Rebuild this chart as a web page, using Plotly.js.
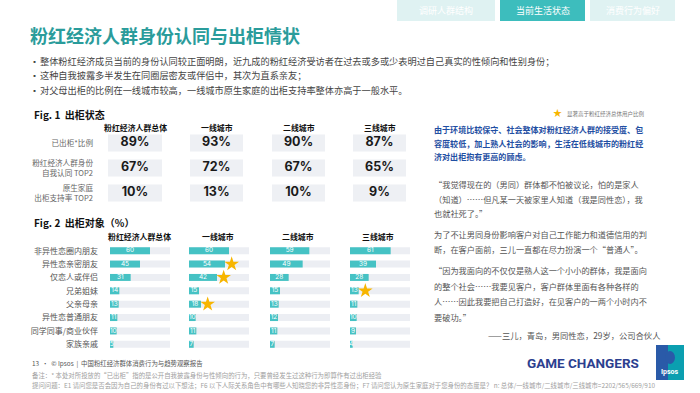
<!DOCTYPE html>
<html><head><meta charset="utf-8">
<script src="https://cdn.plot.ly/plotly-3.0.1.min.js"></script>
<style>html,body{margin:0;padding:0;background:#fff}#chart{width:700px;height:393px}</style>
</head><body><div id="chart"></div>
<script>
// ---------- DATA ----------
const columns = ['粉红经济人群总体', '一线城市', '二线城市', '三线城市'];

const fig1Rows = ['已出柜*比例', '粉红经济人群身份<br>自我认同 TOP2', '原生家庭<br>出柜支持率 TOP2'];
const fig1Total = [89, 67, 10];
const fig1Tier1 = [93, 72, 13];
const fig1Tier2 = [90, 67, 10];
const fig1Tier3 = [87, 65, 9];

const fig2Cats = ['非异性恋圈内朋友', '异性恋亲密朋友', '仅恋人或伴侣', '兄弟姐妹', '父亲母亲', '异性恋普通朋友', '同学同事/商业伙伴', '家族亲戚'];
const fig2Total = [60, 45, 31, 14, 13, 11, 10, 5];
const fig2Tier1 = [60, 54, 42, 15, 18, 10, 11, 7];
const fig2Tier2 = [59, 49, 28, 15, 13, 12, 11, 7];
const fig2Tier3 = [61, 39, 28, 13, 11, 10, 9, 4];
// 1 = significantly higher than total
const fig2StarTotal = [0, 0, 0, 0, 0, 0, 0, 0];
const fig2StarTier1 = [0, 1, 1, 0, 1, 0, 0, 0];
const fig2StarTier2 = [0, 0, 0, 0, 0, 0, 0, 0];
const fig2StarTier3 = [0, 0, 0, 1, 0, 0, 0, 0];

const tabs = ['调研人群结构', '当前生活状态', '消费行为偏好'];
const bullets = [
  '整体粉红经济成员当前的身份认同较正面明朗，近九成的粉红经济受访者在过去或多或少表明过自己真实的性倾向和性别身份；',
  '这种自我披露多半发生在同圈层密友或伴侣中，其次为直系亲友；',
  '对父母出柜的比例在一线城市较高，一线城市原生家庭的出柜支持率整体亦高于一般水平。'
];
const blueLines = [
  '由于环境比较保守、社会整体对粉红经济人群的接受度、包',
  '容度较低，加上熟人社会的影响，生活在低线城市的粉红经',
  '济对出柜抱有更高的顾虑。'
];
const quoteLines = [
  ['“我觉得现在的（男同）群体都不怕被议论，怕的是家人', 184],
  ['（知道）……但凡某一天被家里人知道（我是同性恋），我', 199],
  ['也就社死了。”', 213],
  ['为了不让男同身份影响客户对自己工作能力和道德信用的判', 234],
  ['断，在客户面前，三儿一直都在尽力扮演一个“普通人”。', 249],
  ['“因为我面向的不仅仅是熟人这一个小小的群体，我是面向', 270],
  ['的整个社会……我要见客户，客户群体里面有各种各样的', 286],
  ['人……因此我要把自己打造好，在见客户的一两个小时内不', 301],
  ['要破功。”', 317]
];

// ---------- LAYOUT HELPERS ----------
const W = 700, H = 393;
const px = x => x / W;
const py = y => 1 - y / H;
const TEAL = '#45c2c4', TRACK = '#eceef3', CELL = '#eef0f4', STAR = '#f7b500';
const FONT = 'Noto Sans CJK SC, Noto Sans, sans-serif';

const fig2Series = [fig2Total, fig2Tier1, fig2Tier2, fig2Tier3];
const fig2Stars = [fig2StarTotal, fig2StarTier1, fig2StarTier2, fig2StarTier3];
const fig1Series = [fig1Total, fig1Tier1, fig1Tier2, fig1Tier3];
const fig2Dom = [[110, 170], [189, 249], [270, 330], [350, 410]];
const fig1Dom = [[108, 162], [190, 243], [272, 325], [353, 406]];
const maxRange = 90;

const traces = [];
const layout = {
  width: W, height: H, margin: {l: 0, r: 0, t: 0, b: 0},
  paper_bgcolor: '#fff', plot_bgcolor: 'rgba(0,0,0,0)',
  showlegend: false, barmode: 'overlay',
  font: {family: FONT},
  annotations: [], shapes: []
};

// Fig 2 bars
fig2Series.forEach((vals, i) => {
  const xa = i === 0 ? 'x' : 'x' + (i + 1);
  const key = i === 0 ? 'xaxis' : 'xaxis' + (i + 1);
  layout[key] = {domain: [px(fig2Dom[i][0]), px(fig2Dom[i][1])], range: [0, maxRange],
    showgrid: false, zeroline: false, showticklabels: false, showline: false, anchor: 'y', fixedrange: true};
  traces.push({type: 'bar', orientation: 'h', xaxis: xa, yaxis: 'y', y: fig2Cats,
    x: fig2Cats.map(() => maxRange), marker: {color: TRACK}, width: 0.52, hoverinfo: 'skip'});
  traces.push({type: 'bar', orientation: 'h', xaxis: xa, yaxis: 'y', y: fig2Cats, x: vals,
    marker: {color: TEAL}, width: 0.52, hoverinfo: 'skip'});
  traces.push({type: 'scatter', mode: 'text', xaxis: xa, yaxis: 'y', y: fig2Cats,
    x: vals.map(v => v / 2), text: vals.map(String),
    textfont: {color: '#ffffff', size: 6.5, family: 'Inter, sans-serif'}, hoverinfo: 'skip'});
  const sy = [], sx = [];
  fig2Stars[i].forEach((f, j) => { if (f) { sy.push(fig2Cats[j]); sx.push(vals[j] + 10); } });
  traces.push({type: 'scatter', mode: 'markers', xaxis: xa, yaxis: 'y', y: sy, x: sx,
    marker: {symbol: 'star', size: 11, color: STAR}, hoverinfo: 'skip'});
});
layout.yaxis = {domain: [py(351), py(244)], type: 'category', autorange: 'reversed',
  showgrid: false, zeroline: false, showline: false, ticks: '', anchor: 'x',
  ticklabelstandoff: 11, tickfont: {size: 8, color: '#555', family: FONT}, fixedrange: true};

// Fig 1 table cells
fig1Series.forEach((vals, i) => {
  const n = i + 5;
  const xa = 'x' + n;
  layout['xaxis' + n] = {domain: [px(fig1Dom[i][0]), px(fig1Dom[i][1])], range: [0, 1],
    showgrid: false, zeroline: false, showticklabels: false, showline: false, anchor: 'y2', fixedrange: true};
  traces.push({type: 'bar', orientation: 'h', xaxis: xa, yaxis: 'y2', y: fig1Rows,
    x: fig1Rows.map(() => 1), marker: {color: CELL}, width: 0.68, hoverinfo: 'skip'});
  traces.push({type: 'scatter', mode: 'text', xaxis: xa, yaxis: 'y2', y: fig1Rows,
    x: fig1Rows.map(() => 0.5), text: vals.map(v => v + '%'),
    textfont: {color: '#1a1a1a', size: 12.5, family: 'Inter, sans-serif', weight: 700}, hoverinfo: 'skip'});
});
layout.yaxis2 = {domain: [py(205.5), py(130.5)], type: 'category', autorange: 'reversed',
  showgrid: false, zeroline: false, showline: false, ticks: '', anchor: 'x5',
  ticklabelstandoff: 14, tickfont: {size: 7.6, color: '#666', family: FONT}, fixedrange: true};

// Column headers
const fig1HeadX = [135, 216.5, 298.5, 379.5];
const fig2HeadX = [139, 218, 298, 378];
columns.forEach((c, i) => {
  layout.annotations.push({text: '<b>' + c + '</b>', x: px(fig1HeadX[i]), y: py(127), xref: 'paper', yref: 'paper',
    showarrow: false, font: {size: 7.9, color: '#111'}, xanchor: 'center', yanchor: 'middle'});
  layout.annotations.push({text: '<b>' + c + '</b>', x: px(fig2HeadX[i]), y: py(236), xref: 'paper', yref: 'paper',
    showarrow: false, font: {size: 7.9, color: '#111'}, xanchor: 'center', yanchor: 'middle'});
});

function ann(text, x, y, opts) {
  layout.annotations.push(Object.assign({text: text, x: px(x), y: py(y), xref: 'paper', yref: 'paper',
    showarrow: false, xanchor: 'left', yanchor: 'middle', font: {size: 9, color: '#444'}}, opts || {}));
}

// Title & bullets
ann('<b>粉红经济人群身份认同与出柜情状</b>', 28, 35, {font: {size: 18, color: '#2a9c9b'}});
bullets.forEach((b, i) => {
  const y = 61 + i * 14.5;
  ann('▪', 29, y, {font: {size: 7, color: '#444'}});
  ann(b, 38, y, {font: {size: 9.2, color: '#444'}});
});

// Tabs
const tabX = [[397, 495], [500, 585], [590, 675]];
tabs.forEach((t, i) => {
  layout.shapes.push({type: 'rect', xref: 'paper', yref: 'paper', x0: px(tabX[i][0]), x1: px(tabX[i][1]),
    y0: py(21), y1: py(0), fillcolor: i === 1 ? '#3dbdbd' : '#dff2f2', line: {width: 0}});
  ann(t, (tabX[i][0] + tabX[i][1]) / 2, 10.5, {xanchor: 'center', font: {size: 9, color: '#ffffff'}});
});

// Fig titles
ann('<b>Fig. 1  出柜状态</b>', 32, 114, {font: {size: 10, color: '#111'}});
ann('<b>Fig. 2  出柜对象（%）</b>', 32, 222, {font: {size: 10, color: '#111'}});

// Right panel
ann('★', 557, 112.5, {xanchor: 'center', font: {size: 9, color: STAR}});
ann('显著高于粉红经济总体用户比例', 565, 113.5, {font: {size: 5.5, color: '#777'}});
blueLines.forEach((l, i) => ann('<b>' + l + '</b>', 432, 129 + i * 14, {font: {size: 8.05, color: '#1f4fa3'}}));
quoteLines.forEach(q => ann(q[0], 432, q[1], {font: {size: 8.2, color: '#555'}}));
ann('——三儿，青岛，男同性恋，29岁，公司合伙人', 662, 335, {xanchor: 'right', font: {size: 8.3, color: '#555'}});

// Footer
ann('13  •  © Ipsos  |  中国粉红经济群体消费行为与趋势观察报告', 30, 363, {font: {size: 6.4, color: '#555'}});
ann('备注：* 本处对所投放的“已出柜”指的是公开自我披露身份与性倾向的行为，只要曾经发生过这种行为即算作有过出柜经验', 30, 375, {font: {size: 6.4, color: '#a0a0a0'}});
ann('提问问题：E1 请问您是否会因为自己的身份有过以下想法；F6 以下人际关系角色中有哪些人知晓您的非异性恋身份；F7 请问您认为原生家庭对于您身份的态度是？ n: 总体/一线城市/二线城市/三线城市=2202/565/669/910', 30, 385.5, {font: {size: 6.4, color: '#a0a0a0'}});
ann('<b>GAME CHANGERS</b>', 583, 363, {xanchor: 'center', font: {size: 13.5, color: '#2c3f8f', family: 'Roboto, Liberation Sans, sans-serif'}});
layout.shapes.push({type: 'rect', xref: 'paper', yref: 'paper', x0: px(656), x1: px(684), y0: py(380), y1: py(345),
  fillcolor: '#0b9fb0', line: {width: 0}});
layout.shapes.push({type: 'rect', xref: 'paper', yref: 'paper', x0: px(656), x1: px(668), y0: py(380), y1: py(345),
  fillcolor: '#2a5aa8', line: {width: 0}});
layout.shapes.push({type: 'circle', xref: 'paper', yref: 'paper', x0: px(665), x1: px(675), y0: py(364), y1: py(351),
  fillcolor: '#2a5aa8', line: {width: 0}});
ann('<b>Ipsos</b>', 670, 372, {xanchor: 'center', font: {size: 7, color: '#ffffff', family: 'Roboto, sans-serif'}});

Plotly.newPlot('chart', traces, layout, {staticPlot: true, displayModeBar: false});
</script></body></html>
